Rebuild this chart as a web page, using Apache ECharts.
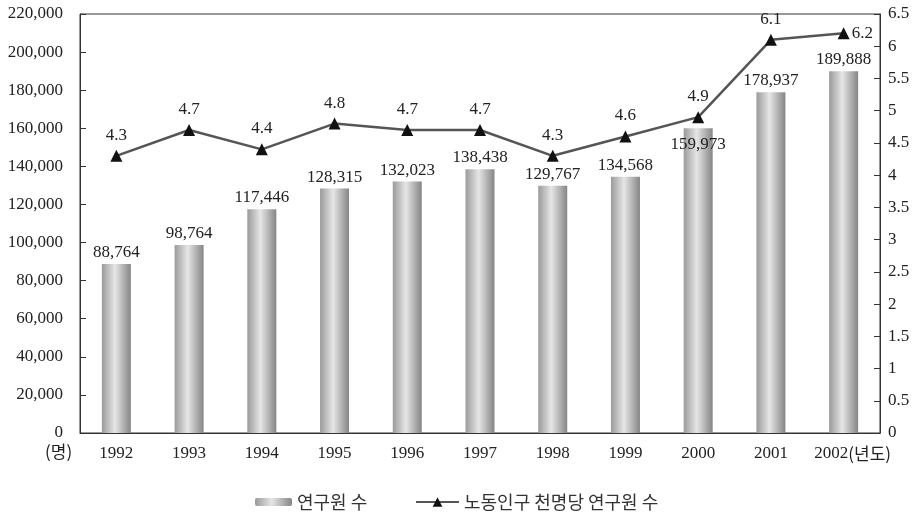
<!DOCTYPE html>
<html><head><meta charset="utf-8">
<script src="https://cdn.jsdelivr.net/npm/echarts@6/dist/echarts.min.js"></script>
<style>html,body{margin:0;padding:0;background:#fff}#c{width:917px;height:512px}</style>
</head><body><div id="c"></div>
<script>
const years = ['1992','1993','1994','1995','1996','1997','1998','1999','2000','2001','2002'];
const researchers = [88764, 98764, 117446, 128315, 132023, 138438, 129767, 134568, 159973, 178937, 189888];
const perThousand = [4.3, 4.7, 4.4, 4.8, 4.7, 4.7, 4.3, 4.6, 4.9, 6.1, 6.2];
const leftTicks = [0, 220000, 20000];
const rightTicks = [0, 6.5, 0.5];
const barName = '연구원 수';
const lineName = '노동인구 천명당 연구원 수';
const xUnit = '(년도)';
const yUnit = '(명)';

const serif = 'Liberation Serif';
const kr = 'Noto Sans CJK KR';
const barGrad = new echarts.graphic.LinearGradient(0,0,1,0,[
  {offset:0,color:'#9a9a9a'},{offset:0.45,color:'#e6e6e6'},{offset:1,color:'#858585'}]);

const chart = echarts.init(document.getElementById('c'), null, {renderer:'canvas'});
chart.setOption({
  animation:false,
  grid:{left:80,right:37,top:14,bottom:79,show:true,borderColor:'#333',borderWidth:1,backgroundColor:'transparent'},
  legend:[
    {data:[barName],left:250,top:488,itemWidth:37,itemHeight:8,itemGap:9,
     textStyle:{fontFamily:kr,fontSize:18,color:'#333'}},
    {data:[lineName],left:410,top:488,itemWidth:43,itemHeight:12,itemGap:9,
     textStyle:{fontFamily:kr,fontSize:18,color:'#333'}}
  ],
  xAxis:{type:'category',data:years,
    axisLine:{lineStyle:{color:'#333'}},
    axisTick:{inside:true,length:6,lineStyle:{color:'#333'}},
    axisLabel:{interval:0,hideOverlap:false,fontFamily:serif,fontSize:17,color:'#222',margin:12,
      formatter:(v,i)=>i===years.length-1?'{y|'+v+'}{k|'+xUnit+'}':v,
      rich:{y:{fontFamily:serif,fontSize:17,color:'#222',padding:[0,0,0,18]},
            k:{fontFamily:kr,fontSize:17,color:'#222'}}}},
  yAxis:[
    {type:'value',min:leftTicks[0],max:leftTicks[1],interval:leftTicks[2],
     axisLine:{show:true,lineStyle:{color:'#333'}},
     axisTick:{show:true,inside:true,length:6,lineStyle:{color:'#333'}},
     splitLine:{show:false},
     axisLabel:{fontFamily:serif,fontSize:17,color:'#222',margin:17,
       formatter:v=>v.toLocaleString('en-US')}},
    {type:'value',min:rightTicks[0],max:rightTicks[1],interval:rightTicks[2],
     axisLine:{show:true,lineStyle:{color:'#333'}},
     axisTick:{show:true,inside:true,length:6,lineStyle:{color:'#333'}},
     splitLine:{show:false},
     axisLabel:{fontFamily:serif,fontSize:17,color:'#222',margin:8}}
  ],
  series:[
    {name:barName,type:'bar',barWidth:29,yAxisIndex:0,
     itemStyle:{color:barGrad},
     data:researchers.map((v,i)=>i===8?{value:v,label:{position:'insideTop',distance:8}}:v),
     label:{show:true,position:'top',distance:3,fontFamily:serif,fontSize:17,color:'#222',
       formatter:p=>p.value.toLocaleString('en-US')}},
    {name:lineName,type:'line',yAxisIndex:1,data:perThousand.map((v,i)=>i===10?{value:v,label:{position:'right',distance:2}}:v),
     symbol:'triangle',symbolSize:12,
     lineStyle:{color:'#555',width:2.5},
     itemStyle:{color:'#111'},
     label:{show:true,position:'top',distance:6,fontFamily:serif,fontSize:17,color:'#222',
       formatter:p=>p.value.toFixed(1)}}
  ],
  graphic:[
    {type:'text',left:45,top:443,style:{text:yUnit,font:'17px "Noto Sans CJK KR"',fill:'#222'}}
  ]
});
</script></body></html>
